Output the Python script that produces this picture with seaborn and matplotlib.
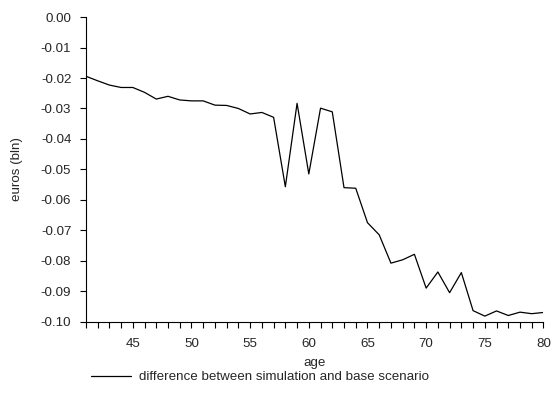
import matplotlib
matplotlib.use("Agg")
import matplotlib.pyplot as plt
from matplotlib.ticker import MultipleLocator, FormatStrFormatter
import numpy as np
import pandas as pd
import seaborn as sns

ages = list(range(41, 81))
difference = [
    -0.0194, -0.0209, -0.0223, -0.0231, -0.0231, -0.0247, -0.0269, -0.0260,
    -0.0272, -0.0275, -0.0275, -0.0289, -0.0290, -0.0300, -0.0318, -0.0313,
    -0.0329, -0.0557, -0.0283, -0.0515, -0.0299, -0.0311, -0.0560, -0.0562,
    -0.0675, -0.0715, -0.0808, -0.0797, -0.0779, -0.0890, -0.0837, -0.0905,
    -0.0839, -0.0964, -0.0982, -0.0965, -0.0980, -0.0969, -0.0974, -0.0970,
]
series_label = "difference between simulation and base scenario"

df = pd.DataFrame({"age": ages, "euros": difference})

sns.set_style("ticks")
plt.rcParams["font.family"] = ["Liberation Sans", "DejaVu Sans"]

FS = 9.6

fig = plt.figure(figsize=(5.54, 3.99), dpi=100)
ax = fig.add_axes([0.155, 0.194, 0.826, 0.763])

sns.lineplot(data=df, x="age", y="euros", ax=ax, color="black",
             linewidth=0.9, label=series_label, legend=False)

ax.set_xlim(41, 80)
ax.set_ylim(-0.10, 0.0)
ax.xaxis.set_major_locator(MultipleLocator(5))
ax.xaxis.set_minor_locator(MultipleLocator(1))
ax.yaxis.set_major_locator(MultipleLocator(0.01))
ax.yaxis.set_major_formatter(FormatStrFormatter("%.2f"))
ax.tick_params(axis="both", which="both", direction="out", length=4.5,
               width=0.8, color="black", labelsize=FS, pad=6)
ax.tick_params(axis="x", which="both", pad=7)

for side in ("top", "right"):
    ax.spines[side].set_visible(False)
for side in ("left", "bottom"):
    ax.spines[side].set_color("black")
    ax.spines[side].set_linewidth(0.8)

ax.set_xlabel("age", fontsize=FS, labelpad=5)
ax.set_ylabel("euros (bln)", fontsize=FS, labelpad=13)

handles, labels = ax.get_legend_handles_labels()
fig.legend(handles, labels, loc="center", bbox_to_anchor=(260 / 554, 1 - 377 / 399),
           frameon=False, fontsize=FS, handlelength=3.0, handletextpad=0.6)

fig.savefig("out.png", dpi=100)
